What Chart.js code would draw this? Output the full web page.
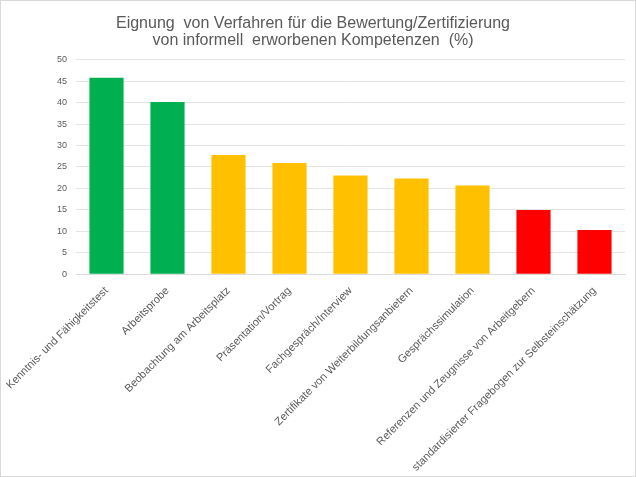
<!DOCTYPE html>
<html>
<head>
<meta charset="utf-8">
<script src="https://cdn.jsdelivr.net/npm/chart.js@4/dist/chart.umd.min.js"></script>
<style>
  html, body { margin: 0; padding: 0; background: #fff; }
  #wrap { position: relative; width: 634px; height: 475px; border: 1px solid #d9d9d9; }
</style>
</head>
<body>
<div id="wrap"><canvas id="myChart"></canvas></div>
<script>
const categories = [
  "Kenntnis- und Fähigkeitstest",
  "Arbeitsprobe",
  "Beobachtung am Arbeitsplatz",
  "Präsentation/Vortrag",
  "Fachgespräch/Interview",
  "Zertifikate von Weiterbildungsanbietern",
  "Gesprächssimulation",
  "Referenzen und Zeugnisse von Arbeitgebern",
  "standardisierter Fragebogen zur Selbsteinschätzung",
];

const values = [45.8, 40.1, 27.8, 25.9, 23.0, 22.3, 20.7, 15.0, 10.3];

const barColors = [
  "#00b050", "#00b050",
  "#ffc000", "#ffc000", "#ffc000", "#ffc000", "#ffc000",
  "#ff0000", "#ff0000",
];

const ctx = document.getElementById("myChart").getContext("2d");
const myChart = new Chart(ctx, {
  type: "bar",
  data: {
    labels: categories,
    datasets: [
      {
        label: "Eignung (%)",
        data: values,
        backgroundColor: barColors,
        borderWidth: 0,
        categoryPercentage: 1,
        barPercentage: 0.56,
      },
    ],
  },
  options: {
    responsive: true,
    maintainAspectRatio: false,
    animation: false,
    layout: {
      padding: { left: 0, right: 10, top: 0, bottom: 0 },
    },
    scales: {
      x: {
        grid: { display: false },
        border: { color: "#d9d9d9" },
        ticks: {
          color: "#595959",
          font: { family: "Liberation Sans", size: 11 },
          minRotation: 45,
          maxRotation: 45,
          padding: 2,
        },
      },
      y: {
        min: 0,
        max: 50,
        grid: { color: "#e3e3e3", drawTicks: false },
        border: { display: false },
        ticks: {
          stepSize: 5,
          color: "#595959",
          font: { family: "Liberation Sans", size: 9 },
          padding: 9,
        },
        afterFit: (scale) => {
          scale.width = 75;
        },
      },
    },
    plugins: {
      legend: { display: false },
      tooltip: { enabled: false },
      title: {
        display: true,
        text: [
          "Eignung  von Verfahren für die Bewertung/Zertifizierung",
          "von informell  erworbenen Kompetenzen  (%)",
        ],
        color: "#595959",
        font: { family: "Liberation Sans", size: 16, weight: "normal", lineHeight: 1.05 },
        padding: { top: 14, bottom: 11 },
      },
    },
  },
});
</script>
</body>
</html>
